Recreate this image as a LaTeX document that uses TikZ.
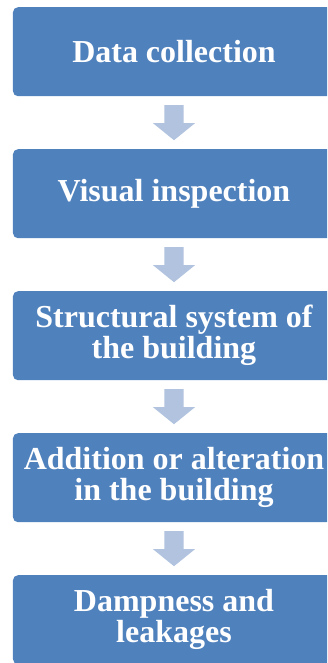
\documentclass[tikz,border=0pt]{standalone}
\usepackage{fontspec}
\setmainfont{Liberation Serif}
\usetikzlibrary{
  shapes.arrows,
  matrix,
  positioning
}
\definecolor{stageblue}{HTML}{4F81BD}
\definecolor{arrowblue}{HTML}{B1C3DF}

\begin{document}
\begin{tikzpicture}[
      stage/.style={
         rectangle,
         rounded corners=5pt,
         minimum width=322pt,
         minimum height=89pt,
         inner sep=0pt,
         fill=stageblue,
         text=white,
         align=center,
         font=\bfseries\fontsize{32}{31}\selectfont
      },
      down arrow/.style={
         single arrow,
         rotate=-90,
         minimum height=35pt,
         single arrow head extend=11.5pt,
         single arrow tip angle=102,
         inner xsep=0pt,
         inner ysep=9.5pt,
         fill=arrowblue
      }
    ]
    \clip (0,0) rectangle (327pt,-663pt);
    \matrix[row sep=9pt, inner sep=0pt, matrix anchor=north] at (174pt,-7pt) {
 \node (n11) [stage] {Data collection}; \\
 \node (n21) [down arrow] {}; \\
 \node (n31) [stage] {Visual inspection}; \\
 \node (n41) [down arrow] {}; \\
 \node (n51) [stage] {Structural system of\\the building}; \\
 \node (n61) [down arrow] {}; \\
 \node (n71) [stage] {Addition or alteration\\in the building}; \\
 \node (n81) [down arrow] {}; \\
 \node (n91) [stage] {Dampness and\\leakages}; \\
    };
\end{tikzpicture}
\end{document}
